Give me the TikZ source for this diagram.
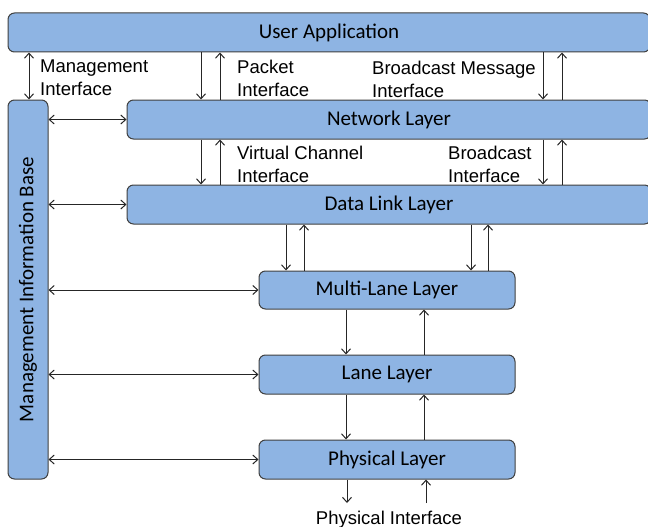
\documentclass[tikz,border=0pt]{standalone}
\usepackage{fontspec}
\setmainfont{Carlito}
\newfontfamily\labfont{Liberation Sans}
\usetikzlibrary{arrows.meta}
\definecolor{boxblue}{RGB}{142,180,227}
\definecolor{edgegray}{RGB}{64,64,64}
\begin{document}
\begin{tikzpicture}[x=1pt,y=-1pt,
  layer/.style={draw=edgegray, fill=boxblue, rounded corners=6.5pt, line width=1pt,
    inner sep=0pt, font=\fontsize{21}{25}\selectfont},
  arr/.style={-{Straight Barb[length=5pt,width=9pt]}, line width=1pt, draw=black!85},
  darr/.style={{Straight Barb[length=5pt,width=9pt]}-{Straight Barb[length=5pt,width=9pt]}, line width=1pt, draw=black!85},
  lbl/.style={font=\labfont\fontsize{18.5}{22.5}\selectfont, align=left, anchor=north west, inner sep=0pt}]
\clip (0,0) rectangle (648,527);
\fill[white] (0,0) rectangle (648,527);

% boxes
\node[layer, minimum width=642pt, minimum height=39pt] (ua) at (329,32.5) {User Application};
\node[layer, minimum width=40pt, minimum height=379pt] (mib) at (28,289.5) {};
\node[rotate=90, font=\fontsize{21}{25}\selectfont] (mibtxt) at (mib.center) {Management Information Base};
\node[layer, minimum width=524pt, minimum height=39pt] (nl) at (389,119.5) {Network Layer};
\node[layer, minimum width=524pt, minimum height=39pt] (dl) at (389,204.5) {Data Link Layer};
\node[layer, minimum width=256pt, minimum height=38pt] (ml) at (387,290) {Multi-Lane Layer};
\node[layer, minimum width=256pt, minimum height=39pt] (ll) at (387,374.5) {Lane Layer};
\node[layer, minimum width=256pt, minimum height=39pt] (pl) at (387,459.5) {Physical Layer};

% labels
\node[lbl] (lmi) at (40,60) {Management\\Interface};
\node[lbl] (lpi) at (237,60) {Packet\\Interface};
\node[lbl] (lbm) at (372,61) {Broadcast Message\\Interface};
\node[lbl] (lvc) at (237,146) {Virtual Channel\\Interface};
\node[lbl] (lbi) at (448,146) {Broadcast\\Interface};
\node[font=\labfont\fontsize{18.5}{22}\selectfont, anchor=base, inner sep=0pt] (lphy) at (389,524) {Physical Interface};

% management interface
\draw[darr] (ua.south -| 29,0) -- (mib.north -| 29,0);

% MIB links
\draw[darr] (mib.east |- nl.west) -- (nl.west);
\draw[darr] (mib.east |- dl.west) -- (dl.west);
\draw[darr] (mib.east |- ml.west) -- (ml.west);
\draw[darr] (mib.east |- ll.west) -- (ll.west);
\draw[darr] (mib.east |- pl.west) -- (pl.west);

% UA <-> NL
\draw[arr] (ua.south -| 201,0) -- (nl.north -| 201,0);
\draw[arr] (nl.north -| 220,0) -- (ua.south -| 220,0);
\draw[arr] (ua.south -| 543,0) -- (nl.north -| 543,0);
\draw[arr] (nl.north -| 562,0) -- (ua.south -| 562,0);

% NL <-> DL
\draw[arr] (nl.south -| 201,0) -- (dl.north -| 201,0);
\draw[arr] (dl.north -| 220,0) -- (nl.south -| 220,0);
\draw[arr] (nl.south -| 543,0) -- (dl.north -| 543,0);
\draw[arr] (dl.north -| 562,0) -- (nl.south -| 562,0);

% DL <-> ML
\draw[arr] (dl.south -| 286,0) -- (ml.north -| 286,0);
\draw[arr] (ml.north -| 304,0) -- (dl.south -| 304,0);
\draw[arr] (dl.south -| 471,0) -- (ml.north -| 471,0);
\draw[arr] (ml.north -| 488,0) -- (dl.south -| 488,0);

% ML <-> LL
\draw[arr] (ml.south -| 346,0) -- (ll.north -| 346,0);
\draw[arr] (ll.north -| 424,0) -- (ml.south -| 424,0);

% LL <-> PL
\draw[arr] (ll.south -| 346,0) -- (pl.north -| 346,0);
\draw[arr] (pl.north -| 424,0) -- (ll.south -| 424,0);

% PL <-> physical interface
\coordinate (pdown) at (347,503);
\coordinate (pup) at (426,503);
\draw[arr] (pl.south -| pdown) -- (pdown);
\draw[arr] (pup) -- (pl.south -| pup);
\end{tikzpicture}
\end{document}
